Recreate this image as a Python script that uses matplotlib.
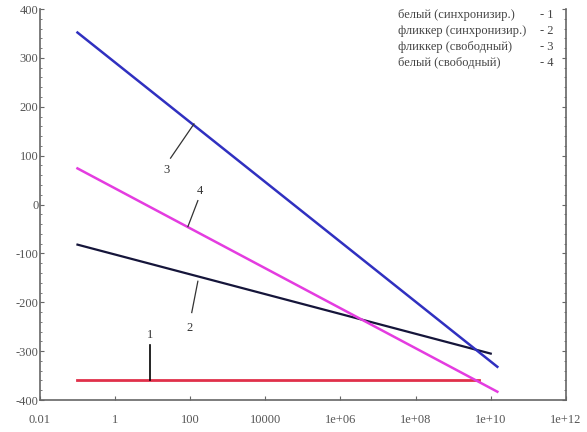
import matplotlib
matplotlib.use("Agg")
import matplotlib.pyplot as plt

plt.rcParams['font.family'] = ['Liberation Serif', 'DejaVu Serif']

# line end points (x is log scale)
white_sync_x = [0.1, 5e9]
white_sync_y = [-360, -360]
flicker_sync_x = [0.1, 1e10]
flicker_sync_y = [-82, -305]
flicker_free_x = [0.1, 1.5e10]
flicker_free_y = [352, -332]
white_free_x = [0.1, 1.5e10]
white_free_y = [74, -383]

legend_names = ['белый (синхронизир.)', 'фликкер (синхронизир.)',
                'фликкер (свободный)', 'белый (свободный)']
legend_nums = ['- 1', '- 2', '- 3', '- 4']

xticks = [0.01, 1, 100, 1e4, 1e6, 1e8, 1e10, 1e12]
xtick_labels = ['0.01', '1', '100', '10000', '1e+06', '1e+08', '1e+10', '1e+12']
yticks = [-400, -300, -200, -100, 0, 100, 200, 300, 400]

fig = plt.figure(figsize=(5.87, 4.32), dpi=100)
ax = fig.add_axes([0.068, 0.074, 0.896, 0.905])

ax.plot(white_sync_x, white_sync_y, color='#e0304a', lw=2)
ax.plot(flicker_sync_x, flicker_sync_y, color='#15153a', lw=1.6)
ax.plot(flicker_free_x, flicker_free_y, color='#3030c0', lw=1.8)
ax.plot(white_free_x, white_free_y, color='#e43ce0', lw=1.8)

# curve labels with leader lines
lc = '#333333'
ax.plot([126, 30], [165, 95], color=lc, lw=0.9)
ax.text(24, 70, '3', ha='center', va='center', fontsize=9, color=lc)
ax.plot([160, 87], [8, -45], color=lc, lw=0.9)
ax.text(180, 27, '4', ha='center', va='center', fontsize=9, color=lc)
ax.plot([160, 110], [-157, -221], color=lc, lw=0.9)
ax.text(98, -252, '2', ha='center', va='center', fontsize=9, color=lc)
ax.plot([8.5, 8.5], [-287, -359], color='black', lw=1.2)
ax.text(8.5, -266, '1', ha='center', va='center', fontsize=9, color=lc)

# legend as plain text
for i, (name, num) in enumerate(zip(legend_names, legend_nums)):
    yy = 0.985 - i * 0.041
    ax.text(0.68, yy, name, transform=ax.transAxes, fontsize=9,
            color='#444444', va='center', ha='left')
    ax.text(0.95, yy, num, transform=ax.transAxes, fontsize=9,
            color='#444444', va='center', ha='left')

ax.set_xscale('log')
ax.set_xlim(0.01, 1e12)
ax.set_ylim(-400, 400)
ax.set_xticks(xticks)
ax.set_xticklabels(xtick_labels)
ax.xaxis.set_minor_locator(matplotlib.ticker.NullLocator())
ax.set_yticks(yticks)
ax.set_yticklabels([str(v) for v in yticks])
ax.yaxis.set_minor_locator(matplotlib.ticker.MultipleLocator(20))

ax.spines['top'].set_visible(False)
for s in ['left', 'bottom', 'right']:
    ax.spines[s].set_color('#666666')
    ax.spines[s].set_linewidth(1.2)
ax.tick_params(axis='both', which='both', colors='#666666', labelcolor='#555555',
               labelsize=9, direction='in', length=3)
ax.tick_params(axis='y', which='minor', length=1.5, right=True)
ax.tick_params(axis='y', which='major', right=True, pad=1)
ax.tick_params(axis='x', pad=10)

fig.savefig('out.png', dpi=100)
